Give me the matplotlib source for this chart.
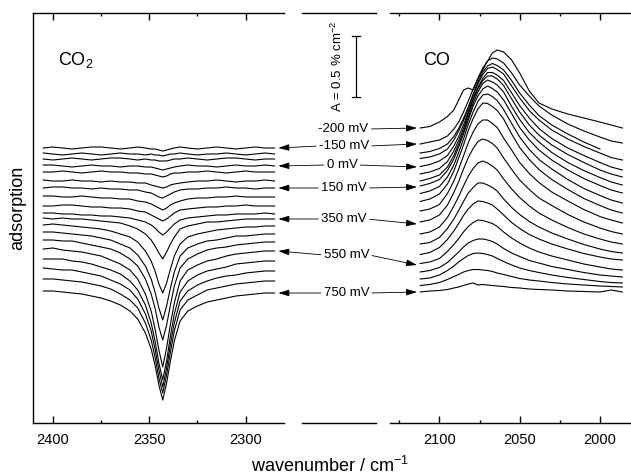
import numpy as np
import matplotlib
matplotlib.use('Agg')
import matplotlib.pyplot as plt

plt.rcParams['font.family'] = 'Liberation Sans'
plt.rcParams['mathtext.default'] = 'regular'

nan = np.nan

# Electrode potentials of the spectra (mV), top to bottom
potentials = [-200, -150, -100, -50, 0, 50, 100, 150, 200, 250,
              300, 350, 400, 450, 500, 550, 600, 650, 700, 750]
labelled = [-200, -150, 0, 150, 350, 550, 750]

# Absorbance, in units where the scale bar (0.5 %) = 61
scale_bar = 61

# ---- CO2 band (no spectrum at -200 mV) ----
wn_co2 = [2405, 2400, 2395, 2390, 2385, 2380, 2375, 2370, 2365, 2360,
          2356, 2352, 2349, 2347, 2345, 2343, 2341, 2339, 2337, 2334,
          2330, 2325, 2320, 2315, 2310, 2305, 2300, 2295, 2290, 2285]
co2_potentials = potentials[1:]
co2_offsets = [275, 269, 264, 257, 251, 242, 235, 226, 217, 209,
               204, 197, 189, 181, 172, 162, 152, 142, 130]
co2_spectra = [
    [0, 1, 0, -1, 0, 1, 1, 0, -1, 0, 1, 0, -1, -1, -2, -3, -2, -1, 0, 1, 0, -1, 0, 1, 0, -1, 0, 1, 0, 0],
    [1, 0, -1, 0, 1, 0, -1, 0, 1, 0, 0, -1, 0, -1, -1, -2, -1, 0, 0, 1, 0, -1, 0, 0, 1, 0, -1, 0, 1, 0],
    [0, -1, 0, 1, 0, -1, 0, 1, 1, 0, -1, 0, -1, -1, -2, -2, -2, -1, 0, 0, 1, 0, -1, 0, 1, 1, 0, -1, 0, 0],
    [1, 1, 0, -1, 0, 1, 0, 0, -1, 0, 0, -1, -1, -2, -3, -4, -3, -2, -1, 0, 1, 0, 0, -1, 0, 1, 0, 0, 1, 0],
    [0, 0, 1, 0, -1, 0, 1, 0, 0, -1, -1, -2, -2, -3, -4, -5, -4, -2, -1, -1, 0, 0, 1, 0, -1, 0, 1, 0, 0, 0],
    [1, 0, 0, 1, 0, 0, -1, 0, -1, -1, -2, -2, -4, -5, -6, -7, -6, -4, -3, -2, -1, 0, 0, 1, 0, -1, 0, 0, 1, 0],
    [0, 1, 1, 0, 0, -1, 0, -1, -1, -2, -2, -4, -5, -7, -9, -10, -8, -6, -4, -2, -1, -1, 0, 0, 1, 0, 0, -1, 0, 0],
    [1, 1, 0, 0, 1, 0, -1, -1, -2, -2, -4, -5, -7, -9, -11, -13, -11, -8, -6, -4, -2, -1, -1, 0, 0, 1, 0, 0, 0, 0],
    [0, 0, 1, 1, 0, -1, -1, -2, -2, -3, -5, -6, -9, -11, -13, -15, -13, -10, -7, -4, -3, -2, -1, -1, 0, 0, 1, 0, 0, 0],
    [1, 1, 0, 0, -1, -1, -2, -2, -3, -4, -6, -8, -11, -14, -18, -21, -18, -14, -10, -6, -4, -3, -2, -1, -1, 0, 0, 0, 1, 0],
    [1, 0, 1, 0, 0, -1, -2, -3, -4, -7, -10, -15, -21, -27, -34, -40, -33, -25, -18, -10, -7, -5, -3, -3, -2, -1, 0, 0, 0, 0],
    [1, 2, 1, 0, -1, -2, -3, -5, -8, -11, -16, -25, -35, -45, -58, -67, -57, -43, -30, -18, -11, -8, -6, -4, -3, -2, -1, -1, 0, 0],
    [2, 2, 1, 0, -1, -2, -4, -6, -10, -14, -21, -32, -45, -58, -74, -86, -72, -54, -38, -22, -14, -10, -7, -6, -4, -2, -2, -1, 0, 0],
    [2, 2, 1, 1, -1, -3, -5, -7, -11, -17, -24, -37, -52, -66, -85, -98, -83, -63, -44, -26, -17, -12, -8, -6, -5, -3, -2, -1, 0, 0],
    [2, 3, 1, 0, -1, -3, -5, -9, -13, -19, -28, -43, -60, -78, -99, -116, -97, -73, -52, -30, -19, -14, -10, -8, -5, -3, -2, -1, 0, 0],
    [2, 2, 2, 0, -1, -3, -6, -9, -13, -20, -29, -44, -62, -80, -102, -119, -100, -75, -53, -31, -20, -14, -10, -8, -6, -3, -2, -1, 0, 0],
    [3, 2, 1, 1, -1, -3, -5, -9, -13, -19, -28, -43, -60, -78, -99, -116, -97, -73, -52, -30, -20, -14, -10, -7, -5, -4, -2, -1, 0, 0],
    [2, 2, 1, 0, -1, -3, -5, -8, -13, -19, -27, -42, -59, -76, -97, -112, -94, -71, -50, -29, -19, -14, -9, -7, -5, -3, -2, -1, 0, 0],
    [2, 2, 1, 0, -1, -3, -5, -8, -12, -18, -26, -40, -56, -72, -92, -107, -90, -68, -48, -28, -18, -13, -9, -7, -5, -3, -2, -1, 0, 0],
]

# ---- CO band ----
wn_co = [2112, 2106, 2100, 2095, 2091, 2088, 2085, 2082, 2079, 2076,
         2073, 2070, 2067, 2064, 2060, 2055, 2050, 2044, 2038, 2030,
         2020, 2010, 2000, 1993, 1986]
co_offsets = [295, 279, 270, 264, 256, 248, 241, 236, 228, 220,
              210, 199, 187, 177, 167, 158, 150, 143, 137, 131]
co_spectra = [
    [0, 1.5, 6, 11.5, 18, 28, 38, 40, 38, 49, 58, 67, 75, 78, 76, 68, 55, 37, 25, 19, 14, 10, 6, 3, 0],
    [0, 2, 4, 8, 15, 22, 32, 43, 55, 66, 76, 83, 86, 85, 81, 71, 59, 48, 38, 29, 20, 13, 7, 3, 1],
    [0, 1.5, 4.5, 9, 16.5, 24.5, 34.5, 46, 59, 71, 81, 87, 89.5, 87.5, 83, 72.5, 60, 48, 37.5, 28, 19, 11, 4, nan, nan],
    [0.5, 2, 5, 10, 19, 28, 38.5, 50.5, 63.5, 75, 84.5, 90.5, 92, 89.5, 85, 73, 61, 48.5, 39, 29, 20, 12.5, 6, 1.5, -1],
    [0.5, 2.5, 6, 11.5, 21, 30.5, 42, 55, 68.5, 79.5, 88.5, 94.5, 94.5, 92, 86.5, 74, 61.5, 49, 38.5, 28.5, 19, 11.5, 4.5, 0, -3],
    [1, 3, 6.5, 13.5, 24, 34.5, 46.5, 61, 75, 86, 94.5, 99, 99, 96, 89.5, 76, 63, 50, 40, 30, 20.5, 12.5, 5, 1, -2],
    [1, 3.5, 7, 15, 26.5, 38, 50.5, 65, 79, 90, 98.5, 102, 100, 97, 90, 75.5, 62.5, 49.5, 40, 29.5, 19.5, 11.5, 4.5, 0, -3],
    [1, 3.5, 7.5, 16.5, 28, 40, 53, 67, 81, 91, 98, 101, 98.5, 95, 87, 73.5, 59.5, 47, 37, 27, 17, 8.5, 1.5, -3, -6],
    [1.5, 4, 8.5, 18, 30, 42.5, 56, 70.5, 83, 93.5, 100, 101, 98.5, 94.5, 85.5, 71.5, 58, 45.5, 35.5, 26, 15.5, 6.5, -0.5, -5, -8],
    [1.5, 4, 9, 19, 32, 45, 58, 72.5, 84.5, 94, 100, 99.5, 96.5, 92.5, 84, 69, 55.5, 43.5, 33.5, 23.5, 13.5, 4.5, -2.5, -7, -10],
    [2, 4, 8.5, 19.5, 32, 44, 57, 70.5, 81, 89, 93, 93, 89.5, 85.5, 75, 63, 50.5, 39.5, 30.5, 21, 12, 3.5, -3.5, -7, -10],
    [2, 4, 9, 19, 31.5, 42.5, 55, 66.5, 75.5, 82.5, 85, 83.5, 80.5, 76, 66, 54.5, 44, 34.5, 26, 18.5, 9.5, 2, -4, -7.5, -10],
    [2, 4, 9, 18.5, 30, 39.5, 50, 60, 67.5, 73, 75, 73, 70, 66, 57, 47, 38.5, 30, 23, 16, 8.5, 2, -3, -6, -8],
    [2, 3.5, 8.5, 17.5, 27, 35.5, 44.5, 53, 58.5, 63, 63, 61, 58.5, 55, 47, 38.5, 31.5, 24.5, 19, 13, 7, 1.5, -3, -5.5, -7],
    [1.5, 3.5, 8.5, 16.5, 25, 32.5, 40.5, 47, 52, 55, 54.5, 53, 51, 47, 41, 33.5, 27.5, 21.5, 17, 12, 7, 2.5, -1, -3, -4],
    [1.5, 3, 6.5, 13.5, 20.5, 26.5, 33, 38.5, 42.5, 45, 44.5, 43, 41.5, 38.5, 33, 27, 22, 17, 13, 9, 5, 1, -2, -4, -5],
    [1, 2.5, 5.5, 10.5, 16.5, 21, 26, 30, 32.5, 34, 34, 33, 31.5, 29, 24.5, 20, 16.5, 12.5, 10, 6.5, 3.5, 0.5, -2, -3, -4],
    [1, 2, 5, 9.5, 14, 18, 21.5, 24.5, 26.5, 27, 26.5, 25.5, 24, 21.5, 18.5, 15, 12, 9.5, 7.5, 5, 2.5, 0.5, -1.5, -2.5, -3],
    [0.5, 1.5, 3.5, 6.5, 9.5, 11.5, 14, 15.5, 16.5, 16.5, 16, 15.5, 14.5, 13, 11.5, 9.5, 7.5, 6, 5, 3.5, 2, 1, 0, -0.5, -1],
    [0, 1, 1.5, 2.5, 4, 5, 6.5, 8, 9, 7, 7.5, 7, 6.5, 6, 5.5, 4.5, 4, 3, 2.5, 2, 1, 0.5, 0, 2, 0],
]

# label placement in the middle panel (axes-x fraction, y in data units)
label_pos = {-200: (0.565, 294), -150: (0.571, 277), 0: (0.544, 258),
             150: (0.571, 235), 350: (0.571, 204), 550: (0.605, 168),
             750: (0.605, 130)}

# ---- layout (pixel boxes of a 631 x 474 figure) ----
W, H = 631, 474
fig = plt.figure(figsize=(6.31, 4.74), dpi=100)


def box(x0, x1, y0=13.5, y1=423):
    return [x0 / W, 1 - y1 / H, (x1 - x0) / W, (y1 - y0) / H]


ax1 = fig.add_axes(box(33, 284))
ax3 = fig.add_axes(box(390, 632))
ax2 = fig.add_axes(box(302, 375.5))

ymax = 409.5
for ax in (ax1, ax2, ax3):
    ax.set_ylim(0, ymax)
    ax.set_yticks([])
    ax.set_facecolor('none')
    for s in ax.spines.values():
        s.set_linewidth(1.0)

ax1.spines['right'].set_visible(False)
ax3.spines['left'].set_visible(False)
ax3.spines['right'].set_visible(False)
ax2.spines['left'].set_visible(False)
ax2.spines['right'].set_visible(False)
ax2.set_xticks([])
ax2.set_xlim(0, 1)

ax1.set_xlim(2410.3, 2280.1)
ax1.set_xticks([2400, 2350, 2300])
ax1.set_xticks([2375, 2325], minor=True)
ax3.set_xlim(2130.8, 1980.0)
ax3.set_xticks([2100, 2050, 2000])
ax3.set_xticks([2125, 2075, 2025], minor=True)
for ax in (ax1, ax3):
    ax.tick_params(axis='x', which='both', direction='in', top=True, bottom=True,
                   width=1.0, labelsize=10.5, pad=7)
    ax.tick_params(axis='x', which='major', length=5)
    ax.tick_params(axis='x', which='minor', length=2.5)

# spectra
for off, s in zip(co2_offsets, co2_spectra):
    ax1.plot(wn_co2, off + np.array(s, dtype=float), color='black', lw=0.8)
for off, s in zip(co_offsets, co_spectra):
    ax3.plot(wn_co, off + np.array(s, dtype=float), color='black', lw=0.8)

ax1.text(0.10, 0.874, 'CO$_2$', transform=ax1.transAxes, fontsize=13, va='baseline')
ax3.text(0.137, 0.874, 'CO', transform=ax3.transAxes, fontsize=13, va='baseline')

# scale bar
sx, stop = 0.735, 387
ax2.plot([sx, sx], [stop - scale_bar, stop], color='black', lw=0.9)
ax2.plot([sx - 0.048, sx + 0.048], [stop, stop], color='black', lw=0.9)
ax2.plot([sx - 0.048, sx + 0.048], [stop - scale_bar, stop - scale_bar], color='black', lw=0.9)
ax2.text(0.483, stop - scale_bar / 2, 'A = 0.5 % cm$^{-2}$', rotation=90,
         ha='center', va='center', fontsize=9.5)

# potential labels with arrows to both panels
arrow = '-|>,head_length=0.65,head_width=0.2'
for p in labelled:
    tx, ty = label_pos[p]
    lab = f'{p} mV'
    i = potentials.index(p)
    ax2.annotate(lab, xy=(2114, co_offsets[i]), xycoords=ax3.transData,
                 xytext=(tx, ty), textcoords=ax2.transData,
                 ha='center', va='center', fontsize=9.5, annotation_clip=False,
                 arrowprops=dict(arrowstyle=arrow, lw=0.6, color='black',
                                 mutation_scale=10, shrinkA=0, shrinkB=0,
                                 relpos=(1, 0.5)))
    if p in co2_potentials:
        j = co2_potentials.index(p)
        ax2.annotate(lab, xy=(2283, co2_offsets[j]), xycoords=ax1.transData,
                     xytext=(tx, ty), textcoords=ax2.transData, color='none',
                     ha='center', va='center', fontsize=9.5, annotation_clip=False,
                     arrowprops=dict(arrowstyle=arrow, lw=0.6, color='black',
                                     mutation_scale=10, shrinkA=0, shrinkB=0,
                                     relpos=(0, 0.5)))

fig.text(17.5 / W, 1 - 208 / H, 'adsorption', rotation=90, ha='center',
         va='center', fontsize=13)
fig.text(330 / W, 1 - 471.5 / H, 'wavenumber / cm$^{-1}$', ha='center',
         va='baseline', fontsize=13)

fig.savefig('out.png', dpi=100)
